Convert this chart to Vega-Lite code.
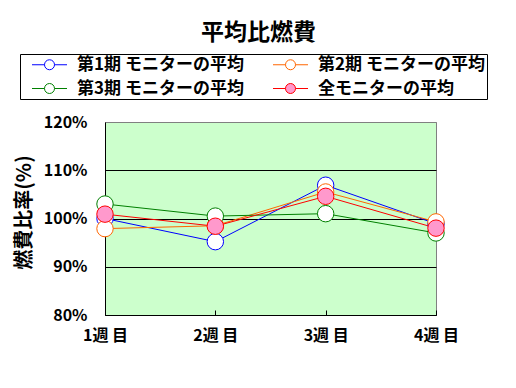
{
  "$schema": "https://vega.github.io/schema/vega-lite/v6.json",
  "width": 331,
  "height": 193,
  "autosize": {"type": "none"},
  "padding": {"left": 105, "top": 122, "right": 80, "bottom": 73},
  "background": "white",
  "title": {"text": "平均比燃費", "fontSize": 23, "font": "Noto Sans CJK JP", "fontWeight": "bold", "anchor": "middle", "dx": -12, "offset": 9, "color": "black"},
  "config": {
    "view": {"fill": "#CCFFCC", "stroke": "#808080", "strokeWidth": 1},
    "font": "Noto Sans CJK JP"
  },
  "data": {"values": [
    {"series": "第1期 モニターの平均", "week": "1週 目", "value": 100.0},
    {"series": "第1期 モニターの平均", "week": "2週 目", "value": 95.2},
    {"series": "第1期 モニターの平均", "week": "3週 目", "value": 106.9},
    {"series": "第1期 モニターの平均", "week": "4週 目", "value": 98.9},
    {"series": "第2期 モニターの平均", "week": "1週 目", "value": 97.9},
    {"series": "第2期 モニターの平均", "week": "2週 目", "value": 98.5},
    {"series": "第2期 モニターの平均", "week": "3週 目", "value": 105.5},
    {"series": "第2期 モニターの平均", "week": "4週 目", "value": 99.3},
    {"series": "第3期 モニターの平均", "week": "1週 目", "value": 103.0},
    {"series": "第3期 モニターの平均", "week": "2週 目", "value": 100.5},
    {"series": "第3期 モニターの平均", "week": "3週 目", "value": 101.0},
    {"series": "第3期 モニターの平均", "week": "4週 目", "value": 97.0},
    {"series": "全モニターの平均", "week": "1週 目", "value": 100.9},
    {"series": "全モニターの平均", "week": "2週 目", "value": 98.4},
    {"series": "全モニターの平均", "week": "3週 目", "value": 104.6},
    {"series": "全モニターの平均", "week": "4週 目", "value": 98.0}
  ]},
  "encoding": {
    "x": {"field": "week", "type": "ordinal", "sort": ["1週 目", "2週 目", "3週 目", "4週 目"],
      "scale": {"type": "point", "padding": 0},
      "axis": {"title": null, "labelAngle": 0, "labelFontSize": 16, "labelFontWeight": "bold", "labelColor": "black", "labelPadding": 17, "tickSize": -5, "tickColor": "black", "domainColor": "black", "grid": false}},
    "y": {"field": "value", "type": "quantitative",
      "scale": {"domain": [80, 120], "nice": false, "zero": false},
      "axis": {"values": [80, 90, 100, 110, 120], "labelExpr": "datum.value + '%'", "title": "燃費比率(%)", "titleFontSize": 20, "titleFontWeight": "bold", "titleColor": "black", "titleX": -81, "titleY": 90, "titleAlign": "center", "titleBaseline": "middle", "labelFontSize": 16, "labelFontWeight": "bold", "labelColor": "black", "labelPadding": 18, "tickSize": 0, "domainColor": "black", "grid": true, "gridColor": {"condition": {"test": "datum.value == 120", "value": "#808080"}, "value": "black"}, "gridOpacity": 1}},
    "stroke": {"field": "series", "type": "nominal",
      "scale": {"domain": ["第1期 モニターの平均", "第2期 モニターの平均", "第3期 モニターの平均", "全モニターの平均"], "range": ["#0000FF", "#FF6600", "#008000", "#FF0000"]},
      "legend": {"orient": "none", "direction": "horizontal", "legendX": -85, "legendY": -68, "columns": 2, "title": null, "strokeColor": "black", "fillColor": "white", "padding": 2, "symbolType": "M-3.5,0H-1M1,0H3.5M-1,0A1,1 0 1,1 1,0A1,1 0 1,1 -1,0Z", "symbolSize": 100, "symbolStrokeWidth": 1, "symbolOffset": 19, "labelFontSize": 17, "labelFontWeight": "bold", "labelColor": "black", "labelLimit": 300, "labelOffset": 19, "columnPadding": 19, "rowPadding": 6}}
  },
  "layer": [
    {"mark": {"type": "line", "strokeWidth": 1}},
    {"mark": {"type": "circle", "size": 270, "strokeWidth": 1, "opacity": 1},
      "encoding": {
        "fill": {"field": "series", "type": "nominal",
          "scale": {"domain": ["第1期 モニターの平均", "第2期 モニターの平均", "第3期 モニターの平均", "全モニターの平均"], "range": ["white", "white", "white", "#FF99CC"]},
          "legend": {"orient": "none", "direction": "horizontal", "legendX": -85, "legendY": -68, "columns": 2, "title": null, "strokeColor": "black", "fillColor": "white", "padding": 2, "symbolType": "M-3.5,0H-1M1,0H3.5M-1,0A1,1 0 1,1 1,0A1,1 0 1,1 -1,0Z", "symbolSize": 100, "symbolStrokeWidth": 1, "symbolOffset": 19, "labelFontSize": 17, "labelFontWeight": "bold", "labelColor": "black", "labelLimit": 300, "labelOffset": 19, "columnPadding": 19, "rowPadding": 6}}
      }}
  ]
}
